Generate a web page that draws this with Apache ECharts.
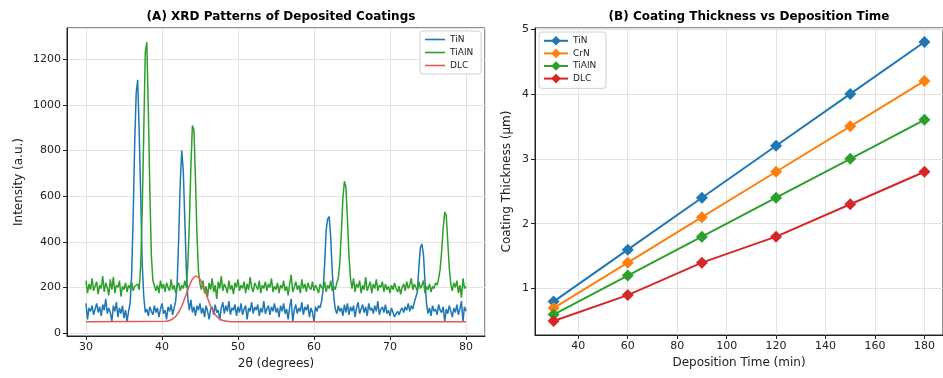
<!DOCTYPE html>
<html>
<head>
<meta charset="utf-8">
<script src="https://cdn.jsdelivr.net/npm/echarts@6.0.0/dist/echarts.min.js"></script>
<style>
  html, body { margin: 0; padding: 0; background: #fff; }
  #chart { width: 943px; height: 378px; }
</style>
</head>
<body>
<div id="chart"></div>
<script>
// ── XRD patterns (panel A), sampled every 0.2 degrees from 30 to 80 ──
var thetaStart = 30;
var thetaStep = 0.2;

var xrdTiN = [
  130, 60, 110, 95, 120, 80, 105, 130, 90, 115, 75, 125, 100, 150, 85, 110, 90, 50, 120, 95, 135, 70, 110, 85, 120,
  65, 100, 50, 95, 130, 250, 500, 820, 1050, 1110, 880, 600, 300, 160, 90, 105, 75, 115, 95, 80, 120, 90, 110, 70, 105,
  130, 85, 100, 60, 115, 95, 125, 80, 110, 140, 220, 420, 660, 800, 710, 500, 280, 150, 100, 145, 90, 115, 75, 120, 100,
  130, 85, 110, 70, 120, 95, 60, 105, 115, 80, 125, 90, 100, 55, 110, 135, 85, 120, 95, 140, 80, 110, 100, 125, 75,
  115, 90, 130, 80, 105, 120, 60, 110, 95, 135, 85, 115, 100, 125, 75, 110, 90, 140, 85, 105, 120, 80, 115, 95, 130,
  90, 110, 70, 120, 95, 130, 85, 105, 60, 115, 150, 50, 100, 125, 85, 110, 95, 135, 80, 115, 100, 125, 70, 110, 90,
  50, 115, 95, 120, 110, 140, 190, 300, 450, 500, 510, 420, 270, 160, 105, 85, 120, 95, 110, 75, 125, 90, 130, 80, 115,
  95, 120, 70, 110, 135, 85, 105, 125, 90, 115, 75, 130, 100, 110, 85, 120, 95, 140, 80, 105, 115, 90, 125, 85, 100,
  75, 110, 90, 70, 85, 95, 80, 100, 110, 90, 115, 100, 130, 95, 120, 105, 135, 130, 180, 290, 375, 390, 345, 230, 130,
  85, 110, 75, 120, 95, 105, 80, 125, 100, 90, 115, 50, 105, 85, 120, 95, 70, 110, 90, 125, 80, 105, 140, 50, 115,
  95
];

var xrdTiAlN = [
  230, 175, 215, 190, 240, 185, 205, 225, 170, 210, 195, 250, 180, 220, 200, 165, 235, 190, 245, 175, 210, 200, 230, 160, 205,
  190, 220, 180, 210, 195, 225, 185, 205, 200, 215, 190, 300, 540, 880, 1230, 1275, 980, 620, 340, 230, 225, 185, 210, 175, 230,
  195, 215, 180, 220, 200, 185, 235, 190, 210, 175, 205, 220, 185, 210, 195, 230, 200, 300, 480, 730, 910, 890, 680, 430, 270,
  215, 190, 230, 175, 205, 160, 220, 190, 240, 180, 210, 150, 225, 195, 250, 185, 215, 200, 175, 230, 190, 210, 170, 220, 200,
  235, 185, 210, 195, 225, 175, 215, 190, 245, 200, 180, 220, 205, 190, 230, 175, 210, 195, 225, 185, 215, 200, 240, 180, 205,
  190, 220, 175, 210, 195, 230, 185, 205, 165, 215, 255, 180, 200, 225, 190, 210, 175, 235, 195, 215, 180, 220, 200, 190, 225,
  185, 210, 195, 175, 215, 200, 190, 225, 180, 210, 195, 230, 185, 205, 190, 220, 240, 310, 440, 590, 665, 640, 500, 340, 240,
  195, 240, 180, 215, 200, 230, 175, 210, 190, 245, 185, 205, 225, 175, 215, 195, 235, 185, 210, 200, 225, 180, 215, 190, 205,
  175, 210, 190, 220, 195, 180, 205, 170, 200, 215, 185, 225, 195, 210, 240, 190, 215, 200, 185, 225, 195, 210, 230, 175, 205,
  190, 215, 180, 205, 195, 220, 210, 240, 280, 360, 460, 530, 515, 400, 285, 215, 185, 220, 200, 230, 175, 210, 155, 240, 195,
  205
];

// DLC is a single broad hump on a flat background
var dlcTheta = [30, 40.5, 41, 41.5, 42, 42.5, 43, 43.5, 44, 44.5, 45, 45.5, 46, 46.5, 47, 47.5, 48, 48.5, 49, 80];
var dlcIntensity = [50, 52, 55, 64, 81, 111, 153, 199, 236, 250, 236, 199, 153, 111, 81, 64, 55, 52, 50, 50];

// ── Thickness vs time (panel B) ──
var depTime = [30, 60, 90, 120, 150, 180];
var thickTiN = [0.8, 1.6, 2.4, 3.2, 4.0, 4.8];
var thickCrN = [0.7, 1.4, 2.1, 2.8, 3.5, 4.2];
var thickTiAlN = [0.6, 1.2, 1.8, 2.4, 3.0, 3.6];
var thickDLC = [0.5, 0.9, 1.4, 1.8, 2.3, 2.8];

var blue = '#1f77b4', orange = '#ff7f0e', green = '#2ca02c', red = '#d62728';
var dlcRed = '#e05a5b';
var ink = '#222';
var gridColor = '#e3e3e3';
var font = 'DejaVu Sans';

function pairs(xs, ys) {
  return ys.map(function(y, i) { return [xs[i], y]; });
}
function sampled(ys) {
  return ys.map(function(y, i) { return [+(thetaStart + i * thetaStep).toFixed(1), y]; });
}

function valueAxis(gridIndex, min, max, step, name, gap) {
  return {
    type: 'value', gridIndex: gridIndex, min: min, max: max,
    minInterval: step, maxInterval: step,
    name: name, nameLocation: 'middle', nameGap: gap,
    nameTextStyle: { color: ink, fontSize: 12, fontFamily: font },
    axisLine: { show: true, onZero: false, lineStyle: { color: ink, width: 1 } },
    axisTick: { show: true, length: 4, lineStyle: { color: ink } },
    axisLabel: { color: ink, fontSize: 11, fontFamily: font, showMinLabel: false, showMaxLabel: false, margin: 6,
      formatter: function(v) { return String(v); } },
    splitLine: { show: true, lineStyle: { color: gridColor, width: 1 } }
  };
}

var legendBox = {
  orient: 'vertical',
  backgroundColor: 'rgba(255,255,255,0.85)', borderColor: '#d0d0d0', borderWidth: 1, borderRadius: 3,
  textStyle: { fontSize: 9, color: ink, fontFamily: font }
};

var chart = echarts.init(document.getElementById('chart'), null, { renderer: 'canvas' });
chart.setOption({
  animation: false,
  backgroundColor: '#fff',
  title: [
    { text: '(A) XRD Patterns of Deposited Coatings', left: 276, top: 6, textAlign: 'center',
      textStyle: { fontSize: 12, fontWeight: 'bold', color: '#000', fontFamily: font } },
    { text: '(B) Coating Thickness vs Deposition Time', left: 744, top: 6, textAlign: 'center',
      textStyle: { fontSize: 12, fontWeight: 'bold', color: '#000', fontFamily: font } }
  ],
  grid: [
    { left: 67, top: 28, width: 418, height: 308, show: true, borderColor: ink, borderWidth: 1, backgroundColor: 'transparent' },
    { left: 535, top: 28, width: 418, height: 307, show: true, borderColor: ink, borderWidth: 1, backgroundColor: 'transparent' }
  ],
  legend: [
    Object.assign({}, legendBox, {
      data: ['TiN', 'TiAlN', 'DLC'], left: 420, top: 31, itemGap: 4,
      icon: 'rect', itemWidth: 20, itemHeight: 1.6, padding: [4, 8, 4, 5]
    }),
    Object.assign({}, legendBox, {
      data: ['TiN ', 'CrN', 'TiAlN ', 'DLC '], left: 539, top: 32, itemGap: 3,
      itemWidth: 24, itemHeight: 12, padding: [4, 7, 5, 4]
    })
  ],
  xAxis: [
    valueAxis(0, 27.5, 82.5, 10, '2θ (degrees)', 22),
    valueAxis(1, 22.5, 187.5, 20, 'Deposition Time (min)', 22)
  ],
  yAxis: [
    valueAxis(0, -13, 1337, 200, 'Intensity (a.u.)', 42),
    valueAxis(1, 0.285, 5.015, 1, 'Coating Thickness (μm)', 22)
  ],
  series: [
    { name: 'TiN', type: 'line', xAxisIndex: 0, yAxisIndex: 0, data: sampled(xrdTiN),
      showSymbol: false, symbol: 'none', color: blue, lineStyle: { width: 1.5, color: blue }, z: 3 },
    { name: 'TiAlN', type: 'line', xAxisIndex: 0, yAxisIndex: 0, data: sampled(xrdTiAlN),
      showSymbol: false, symbol: 'none', color: green, lineStyle: { width: 1.5, color: green }, z: 3 },
    { name: 'DLC', type: 'line', xAxisIndex: 0, yAxisIndex: 0, data: pairs(dlcTheta, dlcIntensity), smooth: 0.3,
      showSymbol: false, symbol: 'none', color: dlcRed, lineStyle: { width: 1.5, color: dlcRed }, z: 3 },

    { name: 'TiN ', type: 'line', xAxisIndex: 1, yAxisIndex: 1, data: pairs(depTime, thickTiN),
      symbol: 'diamond', symbolSize: 12, color: blue, lineStyle: { width: 2, color: blue }, itemStyle: { color: blue } },
    { name: 'CrN', type: 'line', xAxisIndex: 1, yAxisIndex: 1, data: pairs(depTime, thickCrN),
      symbol: 'diamond', symbolSize: 12, color: orange, lineStyle: { width: 2, color: orange }, itemStyle: { color: orange } },
    { name: 'TiAlN ', type: 'line', xAxisIndex: 1, yAxisIndex: 1, data: pairs(depTime, thickTiAlN),
      symbol: 'diamond', symbolSize: 12, color: green, lineStyle: { width: 2, color: green }, itemStyle: { color: green } },
    { name: 'DLC ', type: 'line', xAxisIndex: 1, yAxisIndex: 1, data: pairs(depTime, thickDLC),
      symbol: 'diamond', symbolSize: 12, color: red, lineStyle: { width: 2, color: red }, itemStyle: { color: red } }
  ]
});
</script>
</body>
</html>
